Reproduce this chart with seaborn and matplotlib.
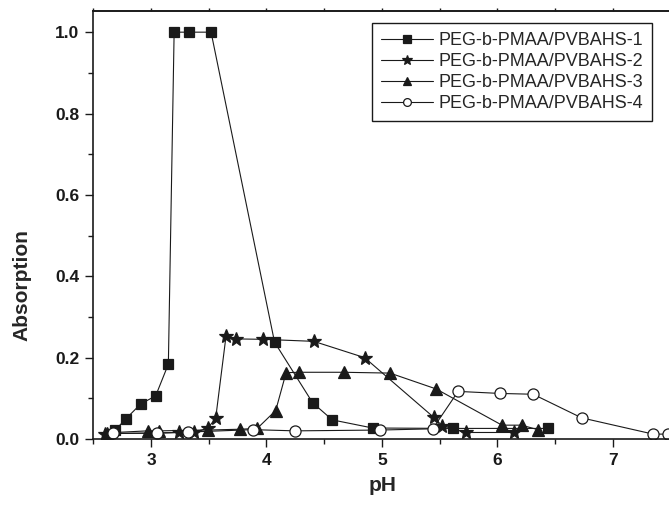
import matplotlib
matplotlib.use("Agg")
import matplotlib.pyplot as plt
import seaborn as sns
import pandas as pd
from matplotlib.ticker import MultipleLocator

# values
ph_1 = [2.69, 2.78, 2.91, 3.04, 3.15, 3.20, 3.33, 3.52, 4.07, 4.40, 4.57, 4.92, 5.62, 6.44]
abs_1 = [0.022, 0.049, 0.086, 0.106, 0.184, 1.0, 1.0, 1.0, 0.238, 0.089, 0.047, 0.027, 0.026, 0.026]

ph_2 = [2.60, 3.24, 3.37, 3.49, 3.56, 3.65, 3.74, 3.97, 4.41, 4.85, 5.45, 5.52, 5.73, 6.14]
abs_2 = [0.013, 0.016, 0.017, 0.026, 0.051, 0.254, 0.246, 0.245, 0.240, 0.200, 0.053, 0.033, 0.016, 0.016]

ph_3 = [2.62, 2.97, 3.07, 3.49, 3.77, 3.92, 4.08, 4.17, 4.28, 4.67, 5.07, 5.47, 6.04, 6.21, 6.35]
abs_3 = [0.015, 0.020, 0.020, 0.022, 0.024, 0.026, 0.070, 0.163, 0.164, 0.164, 0.162, 0.123, 0.034, 0.034, 0.023]

ph_4 = [2.67, 3.05, 3.32, 3.88, 4.25, 4.98, 5.44, 5.66, 6.02, 6.31, 6.73, 7.35, 7.48]
abs_4 = [0.014, 0.014, 0.017, 0.023, 0.020, 0.022, 0.025, 0.117, 0.112, 0.110, 0.052, 0.012, 0.012]

labels = ["PEG-b-PMAA/PVBAHS-1", "PEG-b-PMAA/PVBAHS-2",
          "PEG-b-PMAA/PVBAHS-3", "PEG-b-PMAA/PVBAHS-4"]

sns.set_theme(style="ticks")
plt.rcParams["font.family"] = ["Liberation Sans", "DejaVu Sans"]

ink = "#1a1a1a"
fig = plt.figure(figsize=(6.69, 5.05), dpi=100)
# axes runs past the right edge of the picture, as in the reference
ax = fig.add_axes([0.1395, 0.1307, 0.949, 0.8475])

styles = [
    dict(marker="s", ms=7.5, mfc=ink),
    dict(marker="*", ms=10.5, mfc=ink),
    dict(marker="^", ms=8.5, mfc=ink),
    dict(marker="o", ms=8.0, mfc="white"),
]
series = [(ph_1, abs_1), (ph_2, abs_2), (ph_3, abs_3), (ph_4, abs_4)]

for (x, y), lab, st in zip(series, labels, styles):
    df = pd.DataFrame({"pH": x, "Absorption": y})
    sns.lineplot(data=df, x="pH", y="Absorption", ax=ax, label=lab,
                 color=ink, linewidth=0.8, sort=False, mec=ink, mew=0.9, **st)

ax.set_xlim(2.5, 8.0)
ax.set_ylim(0.0, 1.052)
ax.xaxis.set_minor_locator(MultipleLocator(0.5))
ax.yaxis.set_minor_locator(MultipleLocator(0.1))
ax.set_xticks([3, 4, 5, 6, 7])
ax.set_xticklabels(["3", "4", "5", "6", "7"])
ax.set_yticks([0.0, 0.2, 0.4, 0.6, 0.8, 1.0])
ax.set_yticklabels(["0.0", "0.2", "0.4", "0.6", "0.8", "1.0"])

ax.tick_params(which="major", direction="out", length=6, width=1.0, colors=ink,
               labelsize=12.5, pad=4)
ax.tick_params(which="minor", direction="out", length=3.5, width=1.0, colors=ink)
for t in ax.get_xticklabels() + ax.get_yticklabels():
    t.set_fontweight("bold")

top = ax.secondary_xaxis("top")
top.set_xticks([2.5 + 0.5 * i for i in range(12)])
top.tick_params(direction="out", length=2.5, width=1.0, colors=ink, labeltop=False)
top.spines["top"].set_linewidth(1.2)
top.spines["top"].set_color(ink)

for side in ["left", "bottom", "top", "right"]:
    ax.spines[side].set_visible(True)
    ax.spines[side].set_linewidth(1.2)
    ax.spines[side].set_color(ink)

# axis titles sit under the visible part of the (cropped) frame
ax.set_xlabel("pH", fontsize=15, fontweight="bold", labelpad=6, x=0.455)
ax.set_ylabel("Absorption", fontsize=15, fontweight="bold", labelpad=17, y=0.36)

leg = ax.legend(loc="upper right", bbox_to_anchor=(652 / 669, 1 - 23 / 505),
                bbox_transform=fig.transFigure, borderaxespad=0,
                fontsize=13, frameon=True, fancybox=False, framealpha=1,
                edgecolor=ink, handlelength=2.9, handletextpad=0.3,
                labelspacing=0.22, borderpad=0.5, markerscale=0.7)
leg.get_frame().set_linewidth(1.0)

fig.savefig("out.png", dpi=100)
